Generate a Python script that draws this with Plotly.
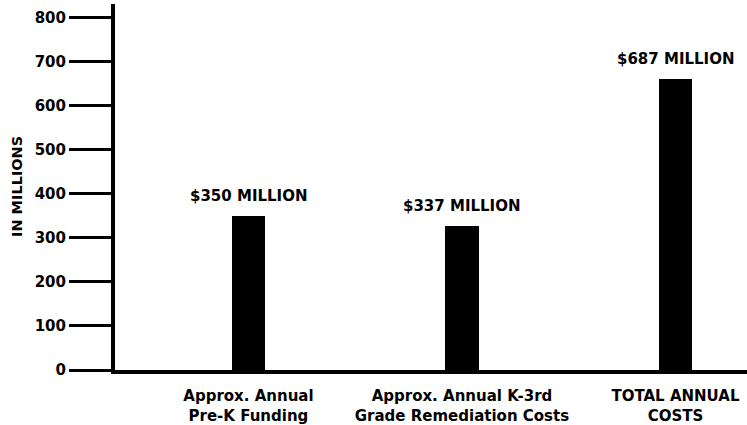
import plotly.graph_objects as go

categories = ["Approx. Annual<br>Pre-K Funding",
              "Approx. Annual K-3rd<br>Grade Remediation Costs",
              "TOTAL ANNUAL<br>COSTS"]
bar_values = [350, 328, 661]
value_labels = ["$350 MILLION", "$337 MILLION", "$687 MILLION"]
y_ticks = [0, 100, 200, 300, 400, 500, 600, 700, 800]

FONT = "DejaVu Sans"

fig = go.Figure()
fig.add_trace(go.Bar(
    x=categories, y=bar_values, width=0.155,
    marker=dict(color="black", line=dict(width=0)),
    hoverinfo="skip",
))

for c, v, t in zip(categories, bar_values, value_labels):
    fig.add_annotation(x=c, y=v, text=t, showarrow=False,
                       xanchor="center", yanchor="bottom", yshift=9,
                       font=dict(family=FONT, size=15, color="black", weight="bold"))

fig.add_annotation(xref="paper", yref="paper", x=0, y=0.5, xshift=-98,
                   text="IN MILLIONS", textangle=-90, showarrow=False,
                   xanchor="center", yanchor="middle",
                   font=dict(family=FONT, size=14.5, color="black", weight="bold"))

fig.update_layout(
    width=747, height=425,
    margin=dict(l=115, r=0, t=4, b=53),
    paper_bgcolor="white", plot_bgcolor="white",
    showlegend=False,
    bargap=0,
)
fig.update_xaxes(
    range=[-0.625, 2.335],
    showline=True, linecolor="black", linewidth=4,
    showgrid=False, zeroline=False, ticks="",
    ticklabelstandoff=9,
    tickfont=dict(family=FONT, size=15, color="black", weight="bold"),
)
fig.update_yaxes(
    range=[0, 831], tickvals=y_ticks,
    showline=True, linecolor="black", linewidth=4,
    showgrid=False, zeroline=False,
    ticks="outside", ticklen=42, tickwidth=3, tickcolor="black",
    tickfont=dict(family=FONT, size=15, color="black", weight="bold"),
)

fig.write_html("out.html", config={"displayModeBar": False},
               post_script="document.body.style.margin='0';")
